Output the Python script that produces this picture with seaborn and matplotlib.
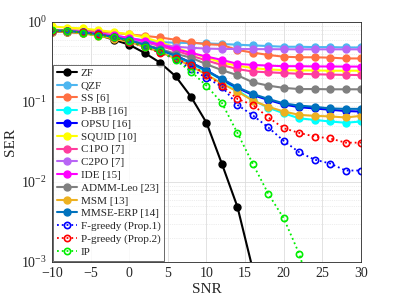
import numpy as np
import pandas as pd
import matplotlib
matplotlib.use("Agg")
import matplotlib.pyplot as plt
import seaborn as sns

snr = list(range(-10, 31, 2))
nan = np.nan

zf = [0.76, 0.75, 0.73, 0.69, 0.60, 0.52, 0.41, 0.31, 0.21, 0.116, 0.055, 0.0168, 0.0049, 0.0008, 1e-4,
      nan, nan, nan, nan, nan, nan]
qzf = [0.78, 0.77, 0.75, 0.72, 0.68, 0.63, 0.59, 0.56, 0.55, 0.545, 0.54, 0.53, 0.52, 0.51, 0.50, 0.49,
       0.49, 0.485, 0.485, 0.48, 0.48]
ss = [0.80, 0.79, 0.78, 0.76, 0.73, 0.70, 0.67, 0.64, 0.60, 0.557, 0.527, 0.516, 0.447, 0.414, 0.387,
      0.368, 0.362, 0.362, 0.358, 0.35, 0.35]
pbb = [0.78, 0.77, 0.74, 0.70, 0.64, 0.58, 0.50, 0.43, 0.36, 0.30, 0.24, 0.19, 0.14, 0.105, 0.085,
       0.072, 0.0625, 0.0596, 0.057, 0.055, 0.057]
opsu = [0.78, 0.77, 0.74, 0.70, 0.65, 0.59, 0.52, 0.45, 0.38, 0.31, 0.25, 0.19, 0.15, 0.122, 0.106,
        0.093, 0.086, 0.083, 0.080, 0.077, 0.076]
squid = [0.88, 0.85, 0.83, 0.79, 0.75, 0.70, 0.64, 0.56, 0.48, 0.41, 0.36, 0.31, 0.285, 0.265, 0.255,
         0.25, 0.248, 0.248, 0.246, 0.246, 0.246]
c1po = [0.78, 0.77, 0.75, 0.72, 0.67, 0.62, 0.56, 0.50, 0.44, 0.38, 0.33, 0.29, 0.258, 0.24, 0.235,
        0.23, 0.225, 0.222, 0.22, 0.218, 0.217]
c2po = [0.78, 0.77, 0.75, 0.71, 0.67, 0.61, 0.56, 0.52, 0.49, 0.475, 0.465, 0.46, 0.46, 0.458, 0.457,
        0.456, 0.455, 0.455, 0.455, 0.455, 0.455]
ide = [0.78, 0.77, 0.75, 0.72, 0.68, 0.63, 0.58, 0.52, 0.46, 0.41, 0.37, 0.335, 0.30, 0.29, 0.285,
       0.28, 0.28, 0.278, 0.278, 0.277, 0.277]
admm = [0.78, 0.77, 0.74, 0.70, 0.65, 0.59, 0.52, 0.46, 0.40, 0.358, 0.296, 0.25, 0.216, 0.176, 0.16,
        0.15, 0.145, 0.145, 0.144, 0.144, 0.144]
msm = [0.76, 0.75, 0.72, 0.67, 0.62, 0.56, 0.49, 0.42, 0.35, 0.28, 0.22, 0.17, 0.135, 0.104, 0.087,
       0.076, 0.069, 0.067, 0.066, 0.064, 0.067]
mmse_erp = [0.78, 0.77, 0.74, 0.70, 0.65, 0.59, 0.52, 0.45, 0.38, 0.31, 0.245, 0.195, 0.153, 0.126,
            0.109, 0.096, 0.09, 0.087, 0.083, 0.082, 0.082]
f_greedy = [0.78, 0.77, 0.74, 0.70, 0.64, 0.57, 0.49, 0.42, 0.34, 0.26, 0.20, 0.155, 0.092, 0.068,
            0.048, 0.0326, 0.0235, 0.019, 0.017, 0.0139, 0.0139]
p_greedy = [0.78, 0.77, 0.74, 0.70, 0.64, 0.57, 0.49, 0.41, 0.35, 0.29, 0.22, 0.16, 0.109, 0.092,
            0.064, 0.047, 0.041, 0.037, 0.035, 0.031, 0.031]
ip = [0.79, 0.78, 0.73, 0.67, 0.64, 0.58, 0.49, 0.43, 0.335, 0.24, 0.16, 0.097, 0.041, 0.0168, 0.0071,
      0.0035, 0.00126, 0.0003, nan, nan, nan]

# (label, values, colour, dotted?)
series = [
    ("ZF", zf, "black", False),
    ("QZF", qzf, "#4DB6F0", False),
    ("SS [6]", ss, "#FF7043", False),
    ("P-BB [16]", pbb, "#00FFFF", False),
    ("OPSU [16]", opsu, "#0000FF", False),
    ("SQUID [10]", squid, "#FFFF00", False),
    ("C1PO [7]", c1po, "#FF3C9E", False),
    ("C2PO [7]", c2po, "#B865F5", False),
    ("IDE [15]", ide, "#FF00FF", False),
    ("ADMM-Leo [23]", admm, "#808080", False),
    ("MSM [13]", msm, "#EDB120", False),
    ("MMSE-ERP [14]", mmse_erp, "#0072BD", False),
    ("F-greedy (Prop.1)", f_greedy, "#0000FF", True),
    ("P-greedy (Prop.2)", p_greedy, "#FF0000", True),
    ("IP", ip, "#00EE00", True),
]

sns.set_style("white")
plt.rcParams["font.family"] = ["Liberation Serif", "DejaVu Serif"]
plt.rcParams["mathtext.fontset"] = "stix"

fig = plt.figure(figsize=(3.99, 2.97), dpi=100)
ax = fig.add_axes([0.130, 0.118, 0.775, 0.808])

for label, vals, col, dotted in series:
    df = pd.DataFrame({"SNR": snr, "SER": vals}).dropna()
    if dotted:
        sns.lineplot(data=df, x="SNR", y="SER", ax=ax, color=col, lw=1.3, ls=":",
                     marker="o", markersize=4.5, markerfacecolor="none", markeredgecolor=col,
                     markeredgewidth=1.2, label=label)
    else:
        sns.lineplot(data=df, x="SNR", y="SER", ax=ax, color=col, lw=1.5, ls="-",
                     marker="o", markersize=5, markerfacecolor=col, markeredgecolor=col,
                     markeredgewidth=1.0, label=label)

ax.set_yscale("log")
ax.set_xlim(-10, 30)
ax.set_ylim(1e-3, 1)
ax.set_xticks(range(-10, 31, 5))
ax.grid(True, which="major", color="#DDDDDD", lw=0.6)
ax.grid(True, which="minor", axis="y", color="#DDDDDD", lw=0.5, ls=":")
ax.tick_params(axis="both", which="both", direction="in", labelsize=10, colors="#262626")
ax.tick_params(axis="both", which="major", length=3)
ax.tick_params(axis="y", which="minor", length=1.5)
for s in ax.spines.values():
    s.set_color("#262626")
    s.set_linewidth(0.6)
ax.set_xlabel("SNR", fontsize=11, labelpad=2)
ax.set_ylabel("SER", fontsize=11, labelpad=3)

leg = ax.legend(loc="lower left", bbox_to_anchor=(0.005, 0.006), fontsize=8, labelspacing=0.27,
                handlelength=1.8, handletextpad=0.35, borderpad=0.3, frameon=True, fancybox=False,
                borderaxespad=0)
leg.get_frame().set_edgecolor("#262626")
leg.get_frame().set_linewidth(0.6)

fig.savefig("out.png", dpi=100)
